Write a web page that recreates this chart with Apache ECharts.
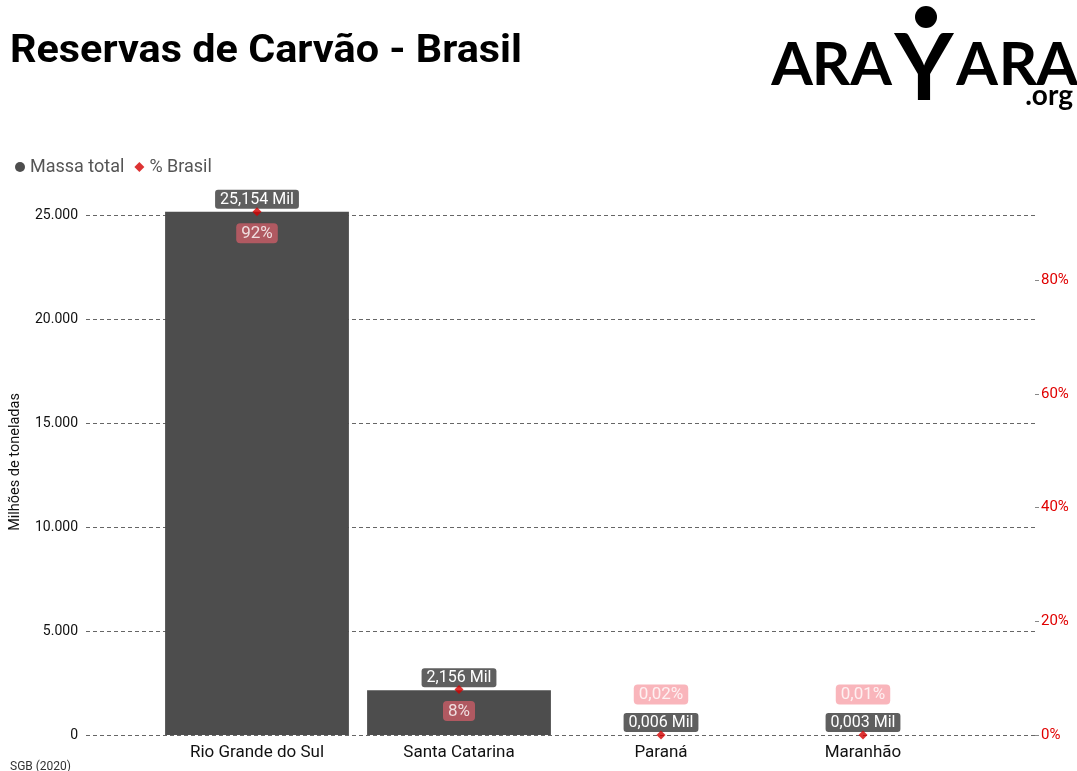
<!DOCTYPE html>
<html>
<head>
<meta charset="utf-8">
<script src="https://cdn.jsdelivr.net/npm/echarts@6/dist/echarts.min.js"></script>
<style>
  html, body { margin: 0; padding: 0; background: #fff; }
  #main { width: 1077px; height: 771px; }
</style>
</head>
<body>
<div id="main"></div>
<script>
// dados
var categorias = ['Rio Grande do Sul', 'Santa Catarina', 'Paraná', 'Maranhão'];
var massaTotal = [25154, 2156, 6, 3];      // milhões de toneladas
var percBrasil = [92, 8, 0.02, 0.01];      // % do Brasil

var FONTE = 'Roboto, "Noto Sans", sans-serif';

function fmtMil(v) {
  return (v / 1000).toFixed(3).replace('.', ',') + ' Mil';
}
function fmtPerc(v) {
  return (v >= 1 ? String(v) : v.toFixed(2).replace('.', ',')) + '%';
}
function fmtMilhar(v) {
  return String(v).replace(/\B(?=(\d{3})+(?!\d))/g, '.');
}

// largura do texto, para encaixar o título
function larguraTexto(txt, font) {
  var c = document.createElement('canvas').getContext('2d');
  c.font = font;
  return c.measureText(txt).width;
}

var myChart = echarts.init(document.getElementById('main'));

var gridTop = 205, gridBottom = 36;
var maxMassa = 25481;
// eixo de % alinhado com o de massa (92% ~ topo da barra do RS)
var maxPerc = maxMassa * (percBrasil[0] / massaTotal[0]);

var titulo = 'Reservas de Carvão - Brasil';
var fonteTitulo = 'bold 39px Roboto';
var escalaTitulo = 512 / larguraTexto(titulo, fonteTitulo);

// rótulos de % : dentro da barra (abaixo do ponto) ou acima do rótulo da barra
var dadosPerc = percBrasil.map(function (v) {
  var dentro = v >= 1;
  return {
    value: v,
    label: {
      position: dentro ? 'bottom' : 'top',
      distance: dentro ? 7 : 26,
      backgroundColor: dentro ? '#c95c66' : '#f7a3aa'
    }
  };
});

// letras do logo (o Y é desenhado à parte)
var letras = [
  { t: 'A', x: 792 }, { t: 'R', x: 831 }, { t: 'A', x: 871 },
  { t: 'A', x: 977 }, { t: 'R', x: 1018 }, { t: 'A', x: 1057 }
];

var option = {
  animation: false,
  textStyle: { fontFamily: FONTE },
  legend: {
    left: 10, top: 153,
    itemWidth: 10, itemHeight: 10, itemGap: 10,
    textStyle: { fontSize: 18, color: '#555' },
    data: [
      { name: 'Massa total', icon: 'circle', itemStyle: { color: '#4d4d4d' } },
      { name: '% Brasil', icon: 'diamond', itemStyle: { color: '#d40000' } }
    ]
  },
  grid: [
    { left: 85, right: 42, top: gridTop, bottom: gridBottom },
    { left: 156, right: 113, top: gridTop, bottom: gridBottom }
  ],
  xAxis: [
    { type: 'category', gridIndex: 0, data: categorias, show: false },
    {
      type: 'category', gridIndex: 1, data: categorias,
      axisLine: { show: false }, axisTick: { show: false },
      axisLabel: { fontSize: 17, color: '#111', margin: 9 }
    }
  ],
  yAxis: [
    {
      type: 'value', gridIndex: 0, min: 0, max: maxMassa, interval: 5000,
      name: 'Milhões de toneladas', nameLocation: 'middle', nameGap: 63, nameRotate: 90,
      nameTextStyle: { fontSize: 14.5, color: '#111', padding: [0, 0, 0, 16] },
      axisLine: { show: false }, axisTick: { show: false },
      axisLabel: { fontSize: 14, color: '#111', margin: 8, showMaxLabel: false, formatter: fmtMilhar },
      splitLine: { show: true, showMaxLine: false, lineStyle: { type: [4, 3], color: '#666', width: 1 } }
    },
    {
      type: 'value', gridIndex: 0, position: 'right', min: 0, max: maxPerc, interval: 20,
      axisLine: { show: false },
      axisTick: { show: true, length: 4, lineStyle: { color: '#888' } },
      axisLabel: { fontSize: 15, color: '#e00000', margin: 6, showMaxLabel: false, formatter: '{value}%' },
      splitLine: { show: false }
    },
    { type: 'value', gridIndex: 1, min: 0, max: maxMassa, show: false, splitLine: { show: false } },
    { type: 'value', gridIndex: 1, min: 0, max: maxPerc, show: false, splitLine: { show: false } }
  ],
  series: [
    {
      name: 'Massa total', type: 'bar', xAxisIndex: 1, yAxisIndex: 2,
      data: massaTotal, barCategoryGap: '9%',
      itemStyle: { color: '#4d4d4d' },
      label: {
        show: true, position: 'top', distance: 3,
        formatter: function (p) { return fmtMil(p.value); },
        color: '#fff', fontSize: 16, backgroundColor: '#5f5f5f',
        padding: [2, 5, 1, 5], borderRadius: 3
      }
    },
    {
      name: '% Brasil', type: 'scatter', xAxisIndex: 1, yAxisIndex: 3,
      data: dadosPerc, symbol: 'diamond', symbolSize: 9,
      itemStyle: { color: '#d40000' },
      z: 5,
      label: {
        show: true, color: '#fff', fontSize: 17,
        formatter: function (p) { return fmtPerc(p.value); },
        padding: [2, 5, 1, 5], borderRadius: 4
      }
    }
  ],
  graphic: [
    {
      type: 'text', x: 10, y: 33, scaleX: escalaTitulo,
      style: { text: titulo, font: fonteTitulo, fill: '#000' }
    },
    {
      type: 'text', x: 10, y: 761,
      style: { text: 'SGB (2020)', font: '12px Roboto', fill: '#333' }
    },
    // Y do logo com o círculo
    { type: 'circle', shape: { cx: 926, cy: 17, r: 11 }, style: { fill: '#000' } },
    {
      type: 'text', x: 924, y: 25,
      style: { text: 'Y', font: 'bold 91px Lato, sans-serif', fill: '#000', textAlign: 'center' }
    },
    {
      type: 'text', x: 1073, y: 82,
      style: { text: '.org', font: 'bold 28px Lato, sans-serif', fill: '#000', textAlign: 'right' }
    }
  ].concat(letras.map(function (l) {
    return {
      type: 'text', x: l.x, y: 36,
      style: { text: l.t, font: 'bold 60px Lato, sans-serif', fill: '#000', textAlign: 'center' }
    };
  }))
};

myChart.setOption(option);
window.addEventListener('resize', function () {
  myChart.resize();
});
</script>
</body>
</html>
